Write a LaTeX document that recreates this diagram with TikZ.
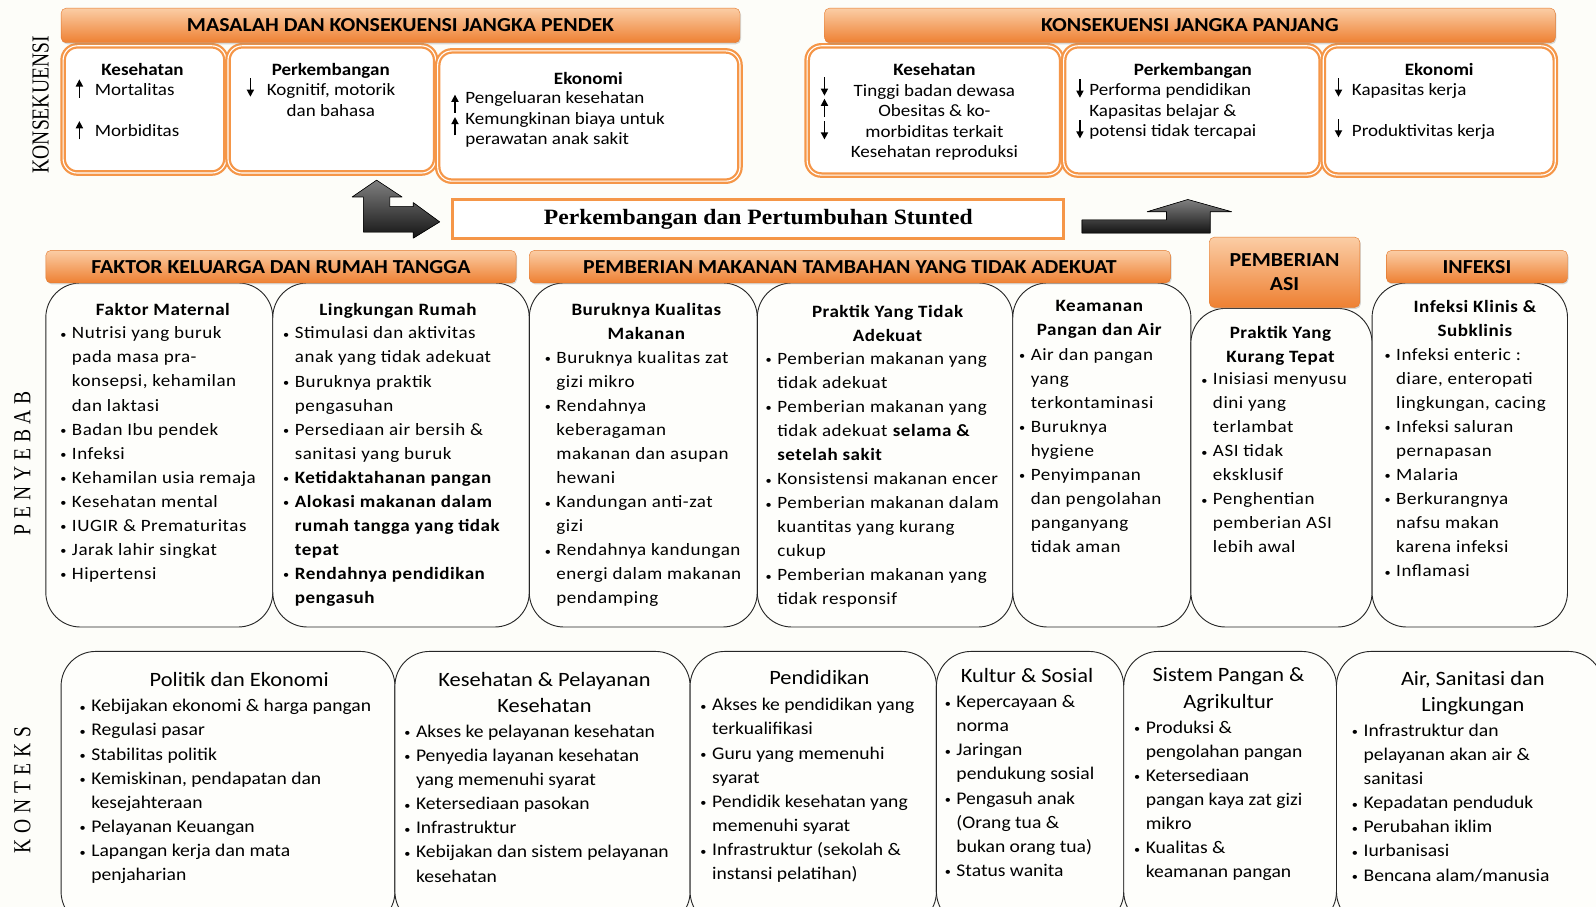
\documentclass[tikz,border=0pt]{standalone}
\usepackage{fontspec}
\setmainfont{Carlito}[FakeStretch=1.1]
\newfontfamily\causefont{Carlito}[FakeStretch=1.1,LetterSpace=3]
\newfontfamily\sidefont{Liberation Serif}[FakeStretch=0.8]
\newfontfamily\sidefontsp{Liberation Serif}[FakeStretch=0.8,LetterSpace=24]
\newfontfamily\stuntfont{Liberation Serif}[FakeStretch=1.08]
\usetikzlibrary{arrows.meta,positioning,shadows}
\definecolor{paper}{RGB}{253,253,249}
\definecolor{boxfill}{RGB}{254,254,251}
\definecolor{boxorange}{RGB}{245,150,72}
\definecolor{barTop}{RGB}{251,205,165}
\definecolor{barBot}{RGB}{238,128,50}
\definecolor{barEdge}{RGB}{226,120,45}
\newcommand{\bul}{\makebox[11.5pt][l]{\raisebox{0.5pt}{\fontsize{11}{11}\selectfont\textbullet}}}
\newcommand{\ind}{\hspace*{11.5pt}}
\tikzset{
  conbox/.style={draw=boxorange,line width=2.2pt,double=white,double distance=1.1pt,
                 rounded corners=14pt,fill=white},
  headbar/.style={rounded corners=5pt,top color=barTop,bottom color=barBot,draw=barEdge,
                  line width=0.4pt,drop shadow={opacity=0.3,shadow xshift=1pt,shadow yshift=-1.5pt},
                  align=center,font=\fontsize{19.5}{24}\selectfont\bfseries},
  causebox/.style={draw=black!85,line width=0.9pt,rounded corners=34pt,fill=boxfill},
  contitle/.style={font=\fontsize{17}{20.2}\selectfont\bfseries,anchor=north,align=center,inner sep=0pt},
  contxt/.style={font=\fontsize{17}{20.2}\selectfont,anchor=north west,align=left,inner sep=0pt},
  causetitle/.style={font=\causefont\fontsize{17}{23.6}\selectfont\bfseries,anchor=north,align=center,inner sep=0pt},
  causetxt/.style={font=\causefont\fontsize{17}{23.6}\selectfont,anchor=north west,align=left,inner sep=0pt},
  ctxtitle/.style={font=\fontsize{20}{26}\selectfont,anchor=north,align=center,inner sep=0pt},
  ctxtxt/.style={font=\fontsize{17.5}{23.7}\selectfont,anchor=north west,align=left,inner sep=0pt},
  sidelabel/.style={rotate=90,font=\sidefont\fontsize{24}{24}\selectfont},
  stuntbox/.style={draw=boxorange,line width=3pt,fill=white,font=\stuntfont\fontsize{21.5}{24}\selectfont\bfseries},
  blockarrow/.style={top color=black!50,bottom color=black!92,draw=black,line width=0.6pt,line join=round},
  uparr/.pic={\draw[line width=1.4pt,-{Triangle[length=7pt,width=7pt]}] (0,9) -- (0,-9);},
  dnarr/.pic={\draw[line width=1.4pt,-{Triangle[length=7pt,width=7pt]}] (0,-9) -- (0,9);},
}

\begin{document}
\begin{tikzpicture}[x=1pt,y=-1pt]
  \path[use as bounding box] (0,0) rectangle (1568,891);
  \clip (0,0) rectangle (1568,891);
  \fill[paper] (0,0) rectangle (1568,891);

  % side labels
  \node[sidelabel] (lblKons) at (40,103) {KONSEKUENSI};
  \node[sidelabel,font=\sidefontsp\fontsize{24}{24}\selectfont] (lblPeny) at (22,455) {PENYEBAB};
  \node[sidelabel,font=\sidefontsp\fontsize{24}{24}\selectfont] (lblKont) at (22,776) {KONTEKS};

  % ---- konsekuensi ----
  \node[conbox,minimum width=160,minimum height=125] (shHealth) at (142,107.5) {};
  \node[conbox,minimum width=204,minimum height=125] (shDev) at (326,107.5) {};
  \node[conbox,minimum width=297,minimum height=128] (shEco) at (578.5,114) {};
  \node[conbox,minimum width=250,minimum height=127] (lgHealth) at (918,108.5) {};
  \node[conbox,minimum width=253,minimum height=127] (lgDev) at (1171.5,108.5) {};
  \node[conbox,minimum width=228,minimum height=127] (lgEco) at (1414,108.5) {};

  \node[headbar,minimum width=667,minimum height=34] (barShort) at (393.5,25)
    {MASALAH DAN KONSEKUENSI JANGKA PENDEK};
  \node[headbar,minimum width=718,minimum height=34] (barLong) at (1169,25)
    {KONSEKUENSI JANGKA PANJANG};

  \node[contitle] (shHealthT) at (140,62) {Kesehatan};
  \node[contxt] (shHealthA) at (93,82) {Mortalitas};
  \node[contxt] (shHealthB) at (93,122) {Morbiditas};
  \pic at (78,87) {uparr};
  \pic at (78,128) {uparr};

  \node[contitle] (shDevT) at (325,62) {Perkembangan};
  \node[contxt] (shDevA) at (262,82) {Kognitif, motorik};
  \node[contxt,anchor=north] (shDevB) at (325,102) {dan bahasa};
  \pic at (246,86) {dnarr};

  \node[contitle] (shEcoT) at (578,71) {Ekonomi};
  \node[contxt] (shEcoA) at (457,90)
    {Pengeluaran kesehatan\\Kemungkinan biaya untuk\\perawatan anak sakit};
  \pic at (447,102) {uparr};
  \pic at (447,124) {uparr};

  \node[contxt,anchor=north,align=center] (lgHealthT) at (918,62)
    {\textbf{Kesehatan}\\Tinggi badan dewasa\\Obesitas \& ko-\\morbiditas terkait\\Kesehatan reproduksi};
  \pic at (810,85) {dnarr};
  \pic at (810,106) {uparr};
  \pic at (810,128) {dnarr};

  \node[contitle] (lgDevT) at (1172,62) {Perkembangan};
  \node[contxt] (lgDevA) at (1070,82)
    {Performa pendidikan\\Kapasitas belajar \&\\potensi tidak tercapai};
  \pic at (1061,87) {dnarr};
  \pic at (1061,127) {dnarr};

  \node[contitle] (lgEcoT) at (1414,62) {Ekonomi};
  \node[contxt] (lgEcoA) at (1328,82) {Kapasitas kerja};
  \node[contxt] (lgEcoB) at (1328,122) {Produktivitas kerja};
  \pic at (1315,86) {dnarr};
  \pic at (1315,126) {dnarr};

  % ---- stunted ----
  \node[stuntbox,minimum width=600,minimum height=38] (stunted) at (745,215)
    {Perkembangan dan Pertumbuhan Stunted};
  \filldraw[blockarrow] (370,177) -- (395,193.5) -- (383,193.5) -- (383,203) -- (406,203)
    -- (406,199) -- (432,218) -- (406,234) -- (406,228) -- (357,228) -- (357,193.5)
    -- (346,193.5) -- cycle;
  \filldraw[blockarrow] (1063,216) -- (1146,216) -- (1146,208) -- (1127,208) -- (1167,196)
    -- (1210,208) -- (1189,208) -- (1189,229) -- (1063,229) -- cycle;

  % ---- penyebab ----
  \node[causebox,minimum width=223,minimum height=338] (maternal) at (156.5,447) {};
  \node[causebox,minimum width=252,minimum height=338] (home) at (394,447) {};
  \node[causebox,minimum width=224,minimum height=338] (foodq) at (632,447) {};
  \node[causebox,minimum width=251,minimum height=338] (practice) at (869.5,447) {};
  \node[causebox,minimum width=175,minimum height=338] (safety) at (1082.5,447) {};
  \node[causebox,minimum width=178,minimum height=313] (breast) at (1259,459.5) {};
  \node[causebox,minimum width=192,minimum height=338] (infect) at (1444,447) {};

  \node[headbar,minimum width=462,minimum height=32] (barFamily) at (276,262)
    {FAKTOR KELUARGA DAN RUMAH TANGGA};
  \node[headbar,minimum width=630,minimum height=32] (barFeed) at (835,262)
    {PEMBERIAN MAKANAN TAMBAHAN YANG TIDAK ADEKUAT};
  \node[headbar,minimum width=148,minimum height=69] (barAsi) at (1262,267.5)
    {PEMBERIAN\\ASI};
  \node[headbar,minimum width=178,minimum height=32] (barInfect) at (1451,262)
    {INFEKSI};

  \node[causetitle] (maternalT) at (160,298) {Faktor Maternal};
  \node[causetxt] (maternalL) at (59,321)
    {\bul Nutrisi yang buruk\\\ind pada masa pra-\\\ind konsepsi, kehamilan\\\ind dan laktasi\\
     \bul Badan Ibu pendek\\\bul Infeksi\\\bul Kehamilan usia remaja\\\bul Kesehatan mental\\
     \bul IUGIR \& Prematuritas\\\bul Jarak lahir singkat\\\bul Hipertensi};

  \node[causetitle] (homeT) at (391,298) {Lingkungan Rumah};
  \node[causetxt] (homeL) at (278,321)
    {\bul Stimulasi dan aktivitas\\\ind anak yang tidak adekuat\\\bul Buruknya praktik\\\ind pengasuhan\\
     \bul Persediaan air bersih \&\\\ind sanitasi yang buruk\\
     \bul\textbf{Ketidaktahanan pangan}\\\bul\textbf{Alokasi makanan dalam}\\
     \ind\textbf{rumah tangga yang tidak}\\\ind\textbf{tepat}\\
     \bul\textbf{Rendahnya pendidikan}\\\ind\textbf{pengasuh}};

  \node[causetitle] (foodqT) at (635,298) {Buruknya Kualitas\\Makanan};
  \node[causetxt] (foodqL) at (535,345)
    {\bul Buruknya kualitas zat\\\ind gizi mikro\\\bul Rendahnya\\\ind keberagaman\\
     \ind makanan dan asupan\\\ind hewani\\\bul Kandungan anti-zat\\\ind gizi\\
     \bul Rendahnya kandungan\\\ind energi dalam makanan\\\ind pendamping};

  \node[causetitle] (practiceT) at (872,300) {Praktik Yang Tidak\\Adekuat};
  \node[causetxt] (practiceL) at (752,346)
    {\bul Pemberian makanan yang\\\ind tidak adekuat\\\bul Pemberian makanan yang\\
     \ind tidak adekuat \textbf{selama \&}\\\ind\textbf{setelah sakit}\\
     \bul Konsistensi makanan encer\\\bul Pemberian makanan dalam\\\ind kuantitas yang kurang\\
     \ind cukup\\\bul Pemberian makanan yang\\\ind tidak responsif};

  \node[causetitle] (safetyT) at (1080,295) {Keamanan\\Pangan dan Air};
  \node[causetxt] (safetyL) at (1001,342)
    {\bul Air dan pangan\\\ind yang\\\ind terkontaminasi\\\bul Buruknya\\\ind hygiene\\
     \bul Penyimpanan\\\ind dan pengolahan\\\ind panganyang\\\ind tidak aman};

  \node[causetitle] (breastT) at (1258,320) {Praktik Yang\\Kurang Tepat};
  \node[causetxt] (breastL) at (1180,366)
    {\bul Inisiasi menyusu\\\ind dini yang\\\ind terlambat\\\bul ASI tidak\\\ind eksklusif\\
     \bul Penghentian\\\ind pemberian ASI\\\ind lebih awal};

  \node[causetitle] (infectT) at (1449,295) {Infeksi Klinis \&\\Subklinis};
  \node[causetxt] (infectL) at (1360,342)
    {\bul Infeksi enteric :\\\ind diare, enteropati\\\ind lingkungan, cacing\\
     \bul Infeksi saluran\\\ind pernapasan\\\bul Malaria\\\bul Berkurangnya\\
     \ind nafsu makan\\\ind karena infeksi\\\bul Inflamasi};

  % ---- konteks ----
  \node[causebox,minimum width=328,minimum height=270] (politic) at (224,775) {};
  \node[causebox,minimum width=290,minimum height=270] (service) at (533,775) {};
  \node[causebox,minimum width=242,minimum height=270] (school) at (799,775) {};
  \node[causebox,minimum width=184,minimum height=270] (culture) at (1012,775) {};
  \node[causebox,minimum width=209,minimum height=270] (agri) at (1208.5,775) {};
  \node[causebox,minimum width=262,minimum height=270] (wash) at (1444,775) {};

  \node[ctxtitle] (politicT) at (235,660) {Politik dan Ekonomi};
  \node[ctxtxt] (politicL) at (78,687)
    {\bul Kebijakan ekonomi \& harga pangan\\\bul Regulasi pasar\\\bul Stabilitas politik\\
     \bul Kemiskinan, pendapatan dan\\\ind kesejahteraan\\\bul Pelayanan Keuangan\\
     \bul Lapangan kerja dan mata\\\ind penjaharian};

  \node[ctxtitle] (serviceT) at (535,660) {Kesehatan \& Pelayanan\\Kesehatan};
  \node[ctxtxt] (serviceL) at (397,712)
    {\bul Akses ke pelayanan kesehatan\\\bul Penyedia layanan kesehatan\\
     \ind yang memenuhi syarat\\\bul Ketersediaan pasokan\\\bul Infrastruktur\\
     \bul Kebijakan dan sistem pelayanan\\\ind kesehatan};

  \node[ctxtitle] (schoolT) at (805,658) {Pendidikan};
  \node[ctxtxt] (schoolL) at (688,686)
    {\bul Akses ke pendidikan yang\\\ind terkualifikasi\\\bul Guru yang memenuhi\\\ind syarat\\
     \bul Pendidik kesehatan yang\\\ind memenuhi syarat\\\bul Infrastruktur (sekolah \&\\
     \ind instansi pelatihan)};

  \node[ctxtitle] (cultureT) at (1009,656) {Kultur \& Sosial};
  \node[ctxtxt] (cultureL) at (928,683)
    {\bul Kepercayaan \&\\\ind norma\\\bul Jaringan\\\ind pendukung sosial\\
     \bul Pengasuh anak\\\ind (Orang tua \&\\\ind bukan orang tua)\\\bul Status wanita};

  \node[ctxtitle] (agriT) at (1207,656) {Sistem Pangan \&\\Agrikultur};
  \node[ctxtxt] (agriL) at (1114,708)
    {\bul Produksi \&\\\ind pengolahan pangan\\\bul Ketersediaan\\\ind pangan kaya zat gizi\\
     \ind mikro\\\bul Kualitas \&\\\ind keamanan pangan};

  \node[ctxtitle] (washT) at (1447,659) {Air, Sanitasi dan\\Lingkungan};
  \node[ctxtxt] (washL) at (1328,711)
    {\bul Infrastruktur dan\\\ind pelayanan akan air \&\\\ind sanitasi\\\bul Kepadatan penduduk\\
     \bul Perubahan iklim\\\bul Iurbanisasi\\\bul Bencana alam/manusia};
\end{tikzpicture}
\end{document}
